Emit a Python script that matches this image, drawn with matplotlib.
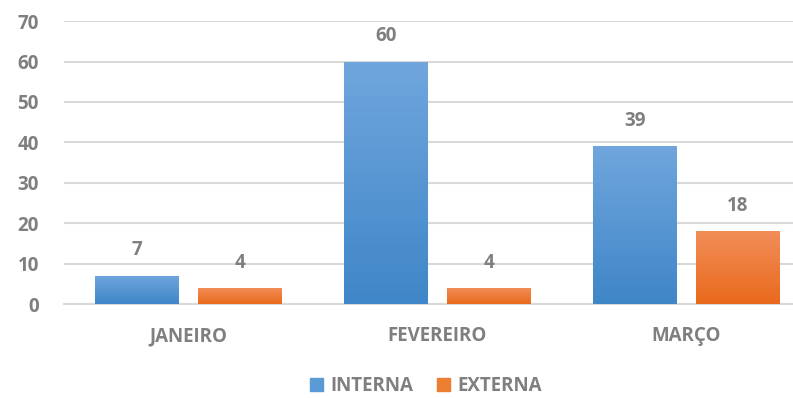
import matplotlib.pyplot as plt
import numpy as np
from matplotlib.colors import LinearSegmentedColormap
from matplotlib.patches import Patch

# dados
meses = ['JANEIRO', 'FEVEREIRO', 'MARÇO']
interna = [7, 60, 39]
externa = [4, 4, 18]

cinza = '#7f7f7f'
tam = 13.5
plt.rcParams['font.family'] = ['Open Sans', 'DejaVu Sans']
plt.rcParams['font.weight'] = 'bold'

fig = plt.figure(figsize=(7.93, 3.98), dpi=100)
ax = fig.add_axes([0.0807, 0.236, 0.942, 0.711])

x = np.arange(len(meses))
largura = 0.336
desloc = 0.206

grad_azul = LinearSegmentedColormap.from_list('azul', ['#3f86c8', '#70a6dd'])
grad_laranja = LinearSegmentedColormap.from_list('laranja', ['#e9691c', '#f28e58'])


def barras_gradiente(pos, valores, cmap, cor):
    barras = ax.bar(pos, valores, largura, color=cor, zorder=3)
    grad = np.linspace(0, 1, 256).reshape(-1, 1)
    for b in barras:
        x0, y0 = b.get_x(), b.get_y()
        w, h = b.get_width(), b.get_height()
        im = ax.imshow(grad, cmap=cmap, origin='lower', aspect='auto',
                       extent=[x0, x0 + w, y0, y0 + h], zorder=4)
        im.set_clip_path(b)
        ax.annotate(f'{int(h)}', (x0 + w / 2, h), xytext=(0, 11),
                    textcoords='offset points', ha='center', va='bottom',
                    fontsize=tam, color=cinza, fontweight='bold')
    return barras


barras_gradiente(x - desloc, interna, grad_azul, '#5b9bd5')
barras_gradiente(x + desloc, externa, grad_laranja, '#ed7d31')

ax.set_xlim(-0.5, 2.5)
ax.set_ylim(0, 70)
ax.set_yticks(range(0, 71, 10))
ax.set_xticks(x)
ax.set_xticklabels(meses)
ax.tick_params(axis='both', length=0, labelsize=tam, colors=cinza)
ax.tick_params(axis='x', pad=16)
ax.tick_params(axis='y', pad=18)
for lbl in ax.get_xticklabels() + ax.get_yticklabels():
    lbl.set_fontweight('bold')

ax.grid(axis='y', color='#d9d9d9', linewidth=1.5, zorder=0)
ax.set_axisbelow(True)
for s in ['top', 'right', 'left']:
    ax.spines[s].set_visible(False)
ax.spines['bottom'].set_color('#d9d9d9')
ax.spines['bottom'].set_linewidth(1.5)

handles = [Patch(color='#5b9bd5', label='INTERNA'),
           Patch(color='#ed7d31', label='EXTERNA')]
fig.legend(handles=handles, loc='center', bbox_to_anchor=(0.537, 0.03),
           ncol=2, frameon=False, labelcolor=cinza,
           handlelength=0.7, handleheight=0.7, handletextpad=0.35,
           columnspacing=1.3, prop={'weight': 'bold', 'size': tam})

fig.savefig('out.png', dpi=100)
